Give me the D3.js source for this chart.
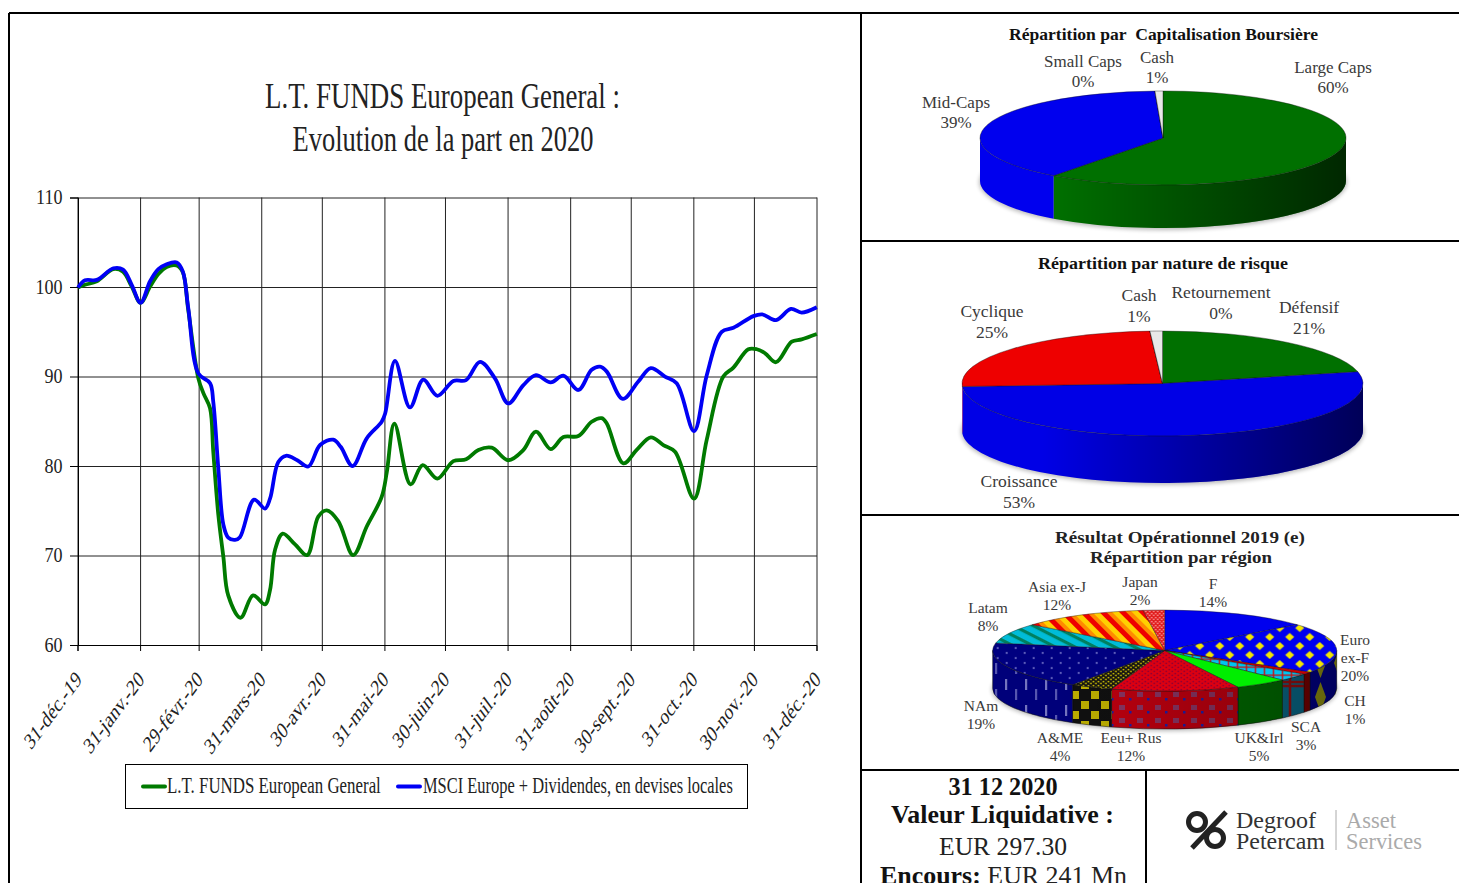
<!DOCTYPE html>
<html><head><meta charset="utf-8">
<script src="https://cdn.jsdelivr.net/npm/d3@7/dist/d3.min.js"></script>
<style>
html,body{margin:0;padding:0;background:#fff;overflow:hidden}
svg{display:block}
text{font-family:"Liberation Serif","Times New Roman",serif}
</style></head><body>
<svg id="c" width="1459" height="883"></svg>
<script>
// ---------- line chart data ----------
const tickDays = [0,31,60,91,121,152,182,213,244,274,305,335,366];
const tickLabels = ["31-déc.-19","31-janv.-20","29-févr.-20","31-mars-20","30-avr.-20","31-mai-20","30-juin-20","31-juil.-20","31-août-20","30-sept.-20","31-oct.-20","30-nov.-20","31-déc.-20"];
const yTicks = [60,70,80,90,100,110];
const fundName = "L.T. FUNDS European General";
const indexName = "MSCI Europe + Dividendes, en devises locales";
const fundDays = [0,3.5,9.3,17.5,22.3,26.6,31,35.7,39.8,43.9,48.9,51.9,54.6,59.6,62.1,65.4,67,69.5,72,74.4,80.5,86.7,92.6,95.1,97.6,101.4,107.5,113.5,119,123.2,128.9,136.3,143,150.4,152.9,156.7,164.7,170.7,178,185.9,192.2,198.3,204.9,213.1,220.6,226.8,234.1,240.4,247.8,254.4,259.4,261.9,270.1,276.7,283.7,289.9,295.7,305.1,311.4,319.6,324.6,332,336.2,340.3,345.7,353.5,358.4,365.9];
const fundValues = [100,100.3,100.7,102.05,101.75,100.1,98.3,100.1,101.5,102.3,102.45,101.7,97.5,89.85,88.2,86.5,81.65,74.6,69.9,65.6,63.1,65.6,64.6,66.2,70.7,72.5,71.3,70.1,74.4,75.1,73.9,70.1,73.3,76.6,79.3,84.8,78,80.15,78.65,80.6,80.8,81.85,82.1,80.7,81.85,83.9,81.95,83.3,83.4,85,85.4,84.8,80.35,81.85,83.25,82.4,81.65,76.4,83,90.05,91.05,93.1,93.1,92.65,91.65,93.95,94.2,94.8];
const indexDays = [0,3.5,9.3,17.5,22.3,26.6,31,35.7,39.8,43.9,48.9,51.9,54.6,59.6,65.4,67,69.5,72,74.4,77.8,80.2,87.2,92.6,95.1,99.2,103,108.6,114.1,119.9,126.4,130.1,136,143,150.4,152.1,157,164.4,171,178,185.9,192.2,199.1,206.5,213.1,220.6,226.8,234.1,240.4,247.8,254.4,258.5,261.9,269.8,277.5,283.7,290.7,296.5,305.1,311.4,318.8,324.6,334.5,338.9,345.7,353.1,358.4,365.9];
const indexValues = [100,100.8,100.85,102.15,102,100.3,98.3,100.7,102.05,102.6,102.8,101.8,97.7,90.4,89.3,87.2,79.8,73.5,72.05,71.8,72.1,76.3,75.3,76.4,80.5,81.2,80.7,80,82.4,83,82.2,80.05,83.15,85,85.9,91.8,86.6,89.7,87.9,89.55,89.65,91.7,89.85,87.05,89.1,90.2,89.4,90.15,88.55,90.8,91.15,90.6,87.55,89.5,91,90.05,89.3,83.95,90.2,95.05,95.5,96.8,97,96.35,97.6,97.2,97.8];

// ---------- pie data ----------
const capCategories = ["Large Caps","Mid-Caps","Small Caps","Cash"];
const capValues = [60.2,39.1,0,0.7];
const capColors = ["#007000","#0000ee","#888888","#e8e8e8"];
const riskCategories = ["Défensif","Croissance","Cyclique","Retournement","Cash"];
const riskValues = [21.4,52.7,24.9,0,1];
const riskColors = ["#007000","#0000e6","#ee0000","#222222","#e8e8e8"];
const regionCategories = ["F","Euro|ex-F","CH","SCA","UK&Irl","Eeu+ Rus","A&ME","NAm","Latam","Asia ex-J","Japan"];
const regionValues = [14,20,1,3,5,12,4,19,8,12,2];
const regionFills = ["#0000ee","url(#pEuro)","#cc0000","url(#pSca)","#00ee00","url(#pEeu)","url(#pAme)","url(#pNam)","url(#pLatam)","url(#pAsia)","url(#pJapan)"];

// ---------- text layout ----------
const capLabelPos = [[1333,68],[956,103],[1083,62],[1157,58]];
const riskLabelPos = [[1309,308],[1019,482],[992,312],[1221,293],[1139,296]];
const regionLabelPos = [[1213,584],[1355,640],[1355,701],[1306,727],[1259,738],[1131,738],[1060,738],[981,706],[988,608],[1057,587],[1140,582]];

const svg = d3.select("#c");
const defs = svg.append("defs");
function txt(g,x,y,s,o={}){
  const anchor=o.anchor||"middle";
  const t=g.append("text").attr("x",0).attr("y",0).attr("text-anchor",anchor)
    .attr("dominant-baseline","central").attr("font-size",o.size||16)
    .attr("font-weight",o.weight||"normal").attr("fill",o.fill||"#333").text(s);
  const k=o.len?o.len/t.node().getComputedTextLength():1;
  t.attr("transform",`translate(${x},${y-1}) scale(${k},1)`);
  return t;
}
// ---------- frame ----------
const frame = svg.append("g").attr("stroke","#000").attr("stroke-width",2);
[[9,13,1459,13],[9,13,9,883],[861,13,861,883],[861,241,1459,241],[861,515,1459,515],[861,770,1459,770],[1146,770,1146,883]]
 .forEach(l=>frame.append("line").attr("x1",l[0]).attr("y1",l[1]).attr("x2",l[2]).attr("y2",l[3]));

// ---------- line chart ----------
const x = d3.scaleLinear().domain([0,366]).range([78,817]);
const y = d3.scaleLinear().domain([60,110]).range([645.5,198]);
const chart = svg.append("g");
txt(chart,442.5,97,"L.T. FUNDS European General :",{size:36,fill:"#222",len:355});
txt(chart,443,140,"Evolution de la part en 2020",{size:36,fill:"#222",len:301});
const gridX = chart.append("g").attr("transform","translate(-0.5,645)")
  .call(d3.axisBottom(x).tickValues(tickDays).tickSize(-447.5).tickFormat(""));
gridX.select(".domain").remove();
const gridY = chart.append("g").attr("transform","translate(78,-0.5)")
  .call(d3.axisLeft(y).tickValues(yTicks).tickSize(-739).tickFormat(""));
gridY.select(".domain").remove();
chart.selectAll("line").attr("stroke","#222").attr("stroke-width",1);
const axX = chart.append("g").attr("transform","translate(-0.5,645)")
  .call(d3.axisBottom(x).tickValues(tickDays).tickSize(6).tickFormat(""));
const axY = chart.append("g").attr("transform","translate(78,-0.5)")
  .call(d3.axisLeft(y).tickValues(yTicks).tickSize(8).tickFormat(d=>d));
[axX,axY].forEach(a=>{a.selectAll("line,path").attr("stroke","#000").attr("stroke-width",1)});
axY.selectAll("text").attr("dy",".29em").attr("font-family","Liberation Serif")
  .attr("font-size",22).attr("fill","#222").attr("transform","scale(.82,1)").attr("x",-19);
tickDays.forEach((d,i)=>{
  chart.append("text").attr("transform",`translate(${x(d)+0.5},675) scale(.74,1) rotate(-45)`)
    .attr("text-anchor","end").attr("dominant-baseline","central").attr("font-size",23).attr("fill","#222").text(tickLabels[i]);
});
const line = d3.line().curve(d3.curveCatmullRom.alpha(0.5));
const fundPts = fundDays.map((d,i)=>[x(d),y(fundValues[i])]);
const indexPts = indexDays.map((d,i)=>[x(d),y(indexValues[i])]);
chart.append("path").attr("d",line(fundPts)).attr("fill","none").attr("stroke","#007a00").attr("stroke-width",3.8).attr("stroke-linejoin","round");
chart.append("path").attr("d",line(indexPts)).attr("fill","none").attr("stroke","#0000f5").attr("stroke-width",3.8).attr("stroke-linejoin","round");
// legend
chart.append("rect").attr("x",125.5).attr("y",764.5).attr("width",622).attr("height",44).attr("fill","#fff").attr("stroke","#000");
chart.append("line").attr("x1",143).attr("x2",165).attr("y1",786.5).attr("y2",786.5).attr("stroke","#007a00").attr("stroke-width",4).attr("stroke-linecap","round");
chart.append("line").attr("x1",398).attr("x2",420).attr("y1",786.5).attr("y2",786.5).attr("stroke","#0000f5").attr("stroke-width",4).attr("stroke-linecap","round");
txt(chart,167,786,fundName,{anchor:"start",size:22.5,fill:"#222",len:214});
txt(chart,423,786,indexName,{anchor:"start",size:22.5,fill:"#222",len:310});

// ---------- pie patterns ----------
function pat(id,w,h,bg,draw,tr){
  const p=defs.append("pattern").attr("id",id).attr("patternUnits","userSpaceOnUse").attr("width",w).attr("height",h);
  if(tr) p.attr("patternTransform",tr);
  p.append("rect").attr("width",w).attr("height",h).attr("fill",bg);
  draw(p);
}
// the top of the region pie sits in a flattened group; this undoes it so its patterns are drawn in screen pixels
const unflat = `scale(1,${172/40.5})`;
pat("pEuro",20,18,"#0000ee",p=>{
  p.append("path").attr("d","M5,0.5 L9.5,4.5 L5,8.5 L0.5,4.5Z M15,9.5 L19.5,13.5 L15,17.5 L10.5,13.5Z").attr("fill","#f2e600");
},unflat);
pat("pSca",9,8,"#00c4f0",p=>{
  p.append("path").attr("d","M0,.7H9M.7,0V8").attr("stroke","#c81010").attr("stroke-width",1.4);
},unflat);
pat("pEeu",6,4,"#dd0010",p=>{
  p.append("circle").attr("cx",1.5).attr("cy",1).attr("r",.8).attr("fill","#770040");
  p.append("circle").attr("cx",4.5).attr("cy",3).attr("r",.8).attr("fill","#770040");
},unflat);
pat("pAme",5,4,"#111",p=>{
  p.append("circle").attr("cx",1.2).attr("cy",1).attr("r",.9).attr("fill","#e8d800");
  p.append("circle").attr("cx",3.7).attr("cy",3).attr("r",.9).attr("fill","#e8d800");
},unflat);
pat("pNam",18,10,"#000080",p=>{
  p.append("circle").attr("cx",4).attr("cy",2.5).attr("r",.9).attr("fill","#9a9ae0");
  p.append("circle").attr("cx",13).attr("cy",7.5).attr("r",.9).attr("fill","#9a9ae0");
},unflat);
pat("pLatam",10,9,"#00bcd8",p=>{
  p.append("rect").attr("width",10).attr("height",3.2).attr("fill","#008060");
},unflat+" rotate(27)");
pat("pAsia",14,14,"#ff8a00",p=>{
  p.append("rect").attr("width",14).attr("height",5).attr("fill","#ee0000");
  p.append("rect").attr("y",5).attr("width",14).attr("height",5).attr("fill","#ffd000");
},unflat+" rotate(45)");
pat("pJapan",4,4,"#e01818",p=>{
  p.append("circle").attr("cx",1).attr("cy",1).attr("r",.8).attr("fill","#ffb0b0");
  p.append("circle").attr("cx",3).attr("cy",3).attr("r",.8).attr("fill","#ffb0b0");
},unflat);
// side-wall patterns for the region pie
pat("sEuro",19,34,"#000090",p=>{
  p.append("path").attr("d","M9.5,2 L15,17 L9.5,32 L4,17Z").attr("fill","#9a9a10");
});
pat("sSca",28,38,"#0a6f90",p=>{
  p.append("path").attr("d","M0,2H28M0,36H28M2,0V38").attr("stroke","#a01010").attr("stroke-width",2.5);
});
pat("sEeu",18,13,"#c80010",p=>{
  p.append("rect").attr("x",3).attr("y",3).attr("width",6).attr("height",5).attr("fill","#903868");
  p.append("rect").attr("x",13).attr("y",9).attr("width",2.5).attr("height",2.5).attr("fill","#2020b0");
});
pat("sAme",20,20,"#111",p=>{
  p.append("rect").attr("x",1).attr("y",1).attr("width",8).attr("height",8).attr("fill","#c8b800");
  p.append("rect").attr("x",11).attr("y",11).attr("width",8).attr("height",8).attr("fill","#c8b800");
});
pat("sNam",20,26,"#000080",p=>{
  p.append("rect").attr("x",5).attr("y",3).attr("width",2.2).attr("height",11).attr("fill","#7a7ac8");
  p.append("rect").attr("x",15).attr("y",13).attr("width",2.2).attr("height",11).attr("fill","#5a5ab8");
});
const regionSideFills = ["#000090","url(#sEuro)","#800000","url(#sSca)","#007000","url(#sEeu)","url(#sAme)","url(#sNam)","#008090","#c06000","#c01010"];

// ---------- 3-D pie ----------
function pie3d(id,cx,cy,rx,ry,h,values,topFills,sideFills,sideDark0,sideDark1,stroke){
  const g=svg.append("g");
  const blur=defs.append("filter").attr("id","bl"+id).attr("x","-10%").attr("y","-30%").attr("width","120%").attr("height","160%");
  blur.append("feGaussianBlur").attr("stdDeviation",2.2);
  g.append("ellipse").attr("cx",cx).attr("cy",cy+h+1).attr("rx",rx+1).attr("ry",ry+1).attr("fill","#000").attr("opacity",.28).attr("filter",`url(#bl${id})`);
  const grad=defs.append("linearGradient").attr("id","gr"+id).attr("gradientUnits","userSpaceOnUse")
    .attr("x1",cx-rx).attr("x2",cx+rx).attr("y1",0).attr("y2",0);
  grad.append("stop").attr("offset",0).attr("stop-color","#000").attr("stop-opacity",sideDark0);
  grad.append("stop").attr("offset",.2).attr("stop-color","#000").attr("stop-opacity",sideDark0);
  grad.append("stop").attr("offset",1).attr("stop-color","#000").attr("stop-opacity",sideDark1);
  const arcs=d3.pie().sort(null).value(d=>d)(values);
  const px=a=>cx+rx*Math.sin(a), py=a=>cy-ry*Math.cos(a);
  const walls=g.append("g");
  arcs.forEach((a,i)=>{
    const a0=Math.max(a.startAngle,Math.PI/2), a1=Math.min(a.endAngle,Math.PI*1.5);
    if(a1<=a0) return;
    const d=`M${px(a0)},${py(a0)}A${rx},${ry} 0 0 1 ${px(a1)},${py(a1)}L${px(a1)},${py(a1)+h}A${rx},${ry} 0 0 0 ${px(a0)},${py(a0)+h}Z`;
    walls.append("path").attr("d",d).attr("fill",sideFills[i]).attr("stroke",stroke||"none").attr("stroke-width",.5);
    walls.append("path").attr("d",d).attr("fill",`url(#gr${id})`);
  });
  const top=g.append("g").attr("transform",`translate(${cx},${cy}) scale(1,${ry/rx})`);
  const arc=d3.arc().innerRadius(0).outerRadius(rx);
  arcs.forEach((a,i)=>{
    top.append("path").attr("d",arc(a)).attr("fill",topFills[i]).attr("stroke","#111").attr("stroke-opacity",.65)
      .attr("stroke-width",.6).attr("vector-effect","non-scaling-stroke");
  });
}
pie3d("cap",1163,138,183,47,43,capValues,capColors,capColors,0,.65);
pie3d("risk",1162.5,383.5,200.5,52.5,47,riskValues,riskColors,riskColors,0,.62);
pie3d("reg",1164.7,650.5,172,40.5,38,regionValues,regionFills,regionSideFills,.05,.35,"#111");

// ---------- pie labels ----------
const lab = svg.append("g");
function labels(cats,vals,pos,size,gap){
  cats.forEach((c,i)=>{
    const parts=c.split("|").concat([Math.round(vals[i])+"%"]);
    parts.forEach((p,j)=>txt(lab,pos[i][0],pos[i][1]+j*gap,p,{size,fill:"#3a3a3a"}));
  });
}
labels(capCategories,capValues,capLabelPos,17,20);
labels(riskCategories,riskValues,riskLabelPos,17.5,21);
labels(regionCategories,regionValues,regionLabelPos,15.5,18);
txt(lab,1163.5,36,"Répartition par\u00A0 Capitalisation Boursière",{size:16,weight:"bold",fill:"#111",len:309});
txt(lab,1163,265,"Répartition par nature de risque",{size:16.5,weight:"bold",fill:"#111",len:250});
txt(lab,1180,538,"Résultat Opérationnel 2019 (e)",{size:16.5,weight:"bold",fill:"#222",len:250});
txt(lab,1181,558,"Répartition par région",{size:16.5,weight:"bold",fill:"#222",len:182});

// ---------- info box ----------
const info = svg.append("g");
txt(info,1003,787,"31 12 2020",{size:25,weight:"bold",fill:"#111",len:109});
txt(info,1002.5,816,"Valeur Liquidative :",{size:25,weight:"bold",fill:"#111",len:223});
txt(info,1003,847,"EUR 297.30",{size:25,fill:"#222",len:128});
const enc=info.append("text").attr("text-anchor","middle").attr("dominant-baseline","central").attr("font-size",25).attr("fill","#222");
enc.append("tspan").attr("font-weight","bold").attr("fill","#111").text("Encours:");
enc.append("tspan").text(" EUR 241 Mn");
enc.attr("transform",`translate(1003.5,875) scale(${247/enc.node().getComputedTextLength()},1)`);

// ---------- logo ----------
const logo = svg.append("g");
logo.append("circle").attr("cx",1197).attr("cy",822).attr("r",8.5).attr("fill","none").attr("stroke","#222").attr("stroke-width",5);
logo.append("circle").attr("cx",1215).attr("cy",838).attr("r",8.5).attr("fill","none").attr("stroke","#222").attr("stroke-width",5);
logo.append("line").attr("x1",1192).attr("y1",848).attr("x2",1226).attr("y2",812).attr("stroke","#222").attr("stroke-width",5);
txt(logo,1236,821,"Degroof",{anchor:"start",size:23,fill:"#333",len:80});
txt(logo,1236,842,"Petercam",{anchor:"start",size:23,fill:"#333",len:89});
logo.append("line").attr("x1",1336).attr("x2",1336).attr("y1",810).attr("y2",850).attr("stroke","#aaa");
txt(logo,1346,821,"Asset",{anchor:"start",size:23,fill:"#aaa",len:50});
txt(logo,1346,842,"Services",{anchor:"start",size:23,fill:"#aaa",len:76});
</script>
</body></html>
